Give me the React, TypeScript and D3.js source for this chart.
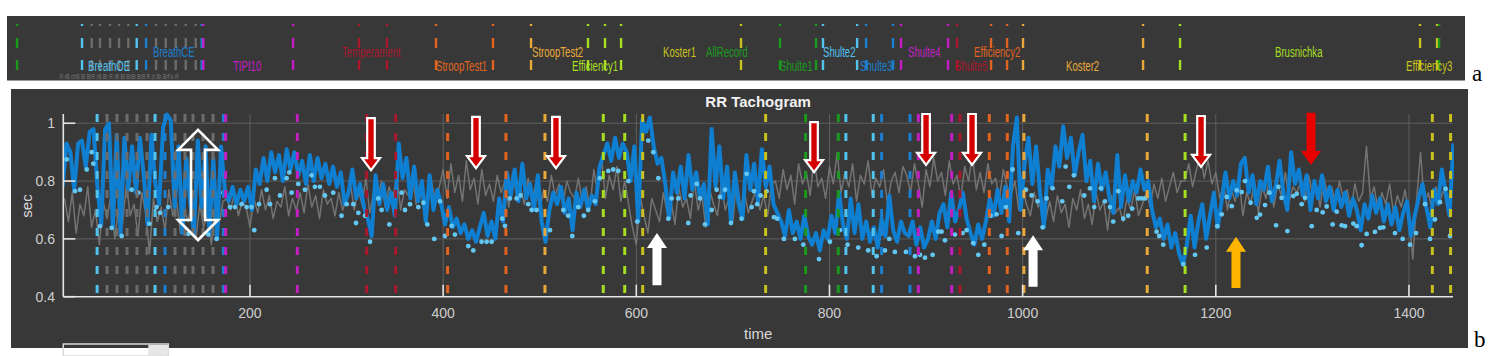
import React from 'react';
import * as d3 from 'd3';

// ---------- axes ----------
const X_DOMAIN: [number, number] = [6.7, 1445.6];
const Y_DOMAIN: [number, number] = [0.4, 1.032];
const X_TICKS = [200, 400, 600, 800, 1000, 1200, 1400];
const Y_TICKS = [0.4, 0.6, 0.8, 1];
const Y_TICK_LABELS = ['0.4', '0.6', '0.8', '1'];
const Y_GRID = [0.6, 0.8, 1];

// ---------- series ----------
const BLUE_T0 = 6;
const BLUE_DT = 4;
const BLUE = [
  0.78, 0.93, 0.90, 0.77, 0.93, 0.94, 0.85, 0.97, 0.98, 0.78,
  0.65, 0.98, 1.00, 0.64, 0.96, 0.62, 0.95, 0.77, 0.92, 0.76,
  0.95, 0.82, 0.65, 0.96, 0.79, 0.72, 0.985, 1.03, 1.01, 0.71,
  0.92, 0.62, 0.88, 0.73, 0.62, 0.94, 0.71, 0.92, 0.62, 0.88,
  0.60, 0.92, 0.77,
  0.73, 0.78, 0.72, 0.77, 0.73, 0.78, 0.70, 0.84, 0.79, 0.88,
  0.80, 0.90, 0.83, 0.89, 0.80, 0.91, 0.84, 0.90, 0.82, 0.87,
  0.79, 0.89, 0.80, 0.88, 0.81, 0.86, 0.79, 0.85, 0.78, 0.83,
  0.72,
  0.76, 0.84, 0.74, 0.79, 0.71, 0.67, 0.61, 0.82, 0.72, 0.79,
  0.70, 0.76, 0.68, 0.93, 0.81, 0.88, 0.74, 0.85, 0.73, 0.80,
  0.66, 0.82, 0.70, 0.77, 0.72, 0.65, 0.71, 0.64, 0.67, 0.62,
  0.65, 0.60, 0.63, 0.59, 0.64, 0.69, 0.61, 0.66, 0.60, 0.74,
  0.66, 0.83, 0.75, 0.84, 0.73, 0.86, 0.74, 0.79, 0.70, 0.82,
  0.66, 0.59, 0.70, 0.76, 0.72, 0.78, 0.69, 0.74, 0.63, 0.76,
  0.71, 0.77, 0.70, 0.75, 0.72, 0.85, 0.89, 0.93, 0.87, 0.95,
  0.88, 0.93,
  0.90, 0.80, 0.92, 0.66, 1.01, 0.97, 1.02, 0.92, 0.86, 0.88,
  0.79, 0.67, 0.83, 0.76, 0.85, 0.74, 0.89, 0.77, 0.83, 0.74,
  0.79, 0.65, 0.98, 0.78, 0.92, 0.74, 0.85, 0.66, 0.83, 0.72,
  0.67, 0.89, 0.77, 0.86, 0.73, 0.91, 0.78, 0.85, 0.72, 0.69,
  0.66, 0.61, 0.70, 0.62, 0.66, 0.60, 0.68, 0.61, 0.58, 0.62,
  0.56, 0.63, 0.60, 0.68, 0.62, 0.76, 0.65, 0.60, 0.74, 0.62,
  0.72, 0.60, 0.66, 0.59, 0.64, 0.57, 0.67, 0.61, 0.75, 0.63,
  0.59, 0.66, 0.62,
  0.61, 0.66, 0.58, 0.64, 0.57, 0.60, 0.66, 0.60, 0.69, 0.72,
  0.64, 0.76, 0.66, 0.70, 0.76, 0.67, 0.62, 0.58, 0.65, 0.60,
  0.66, 0.74, 0.68, 0.77, 0.69, 0.78, 0.66, 0.92, 1.02, 0.70,
  0.86, 0.95, 0.79, 0.92, 0.76, 0.64, 0.84, 0.78, 0.92, 0.85,
  0.99, 0.88, 0.95, 0.82, 0.90, 0.96, 0.80, 0.87, 0.73, 0.86,
  0.77, 0.83, 0.74, 0.69, 0.89, 0.71, 0.82, 0.73, 0.80, 0.76,
  0.84, 0.77, 0.80, 0.70, 0.64, 0.67, 0.60, 0.65, 0.57, 0.62,
  0.55, 0.51,
  0.58, 0.68, 0.57, 0.66, 0.72, 0.60, 0.68, 0.76, 0.64, 0.73,
  0.83, 0.74, 0.80, 0.75, 0.86, 0.88, 0.76, 0.82, 0.72, 0.80,
  0.77, 0.85, 0.73, 0.78, 0.87, 0.76, 0.70, 0.90, 0.79, 0.84,
  0.75, 0.82, 0.70, 0.80, 0.74, 0.82, 0.73, 0.78, 0.70, 0.77,
  0.71, 0.76, 0.68, 0.74, 0.70, 0.63, 0.72, 0.67, 0.75, 0.69,
  0.74, 0.66, 0.72, 0.65, 0.71, 0.63, 0.69, 0.73, 0.61, 0.68,
  0.74, 0.79, 0.71, 0.64, 0.77, 0.72, 0.84, 0.76, 0.68, 0.93,
];

const GREY_T0 = 8;
const GREY_DT = 4;
const GREY = [
  0.74, 0.66, 0.76, 0.62, 0.72, 0.68, 0.78, 0.64, 0.70, 0.58,
  0.73, 0.67, 0.75, 0.60, 0.71, 0.65, 0.79, 0.68, 0.72, 0.61,
  0.76, 0.69, 0.55, 0.74, 0.66, 0.71, 0.63, 0.77, 0.68, 0.73,
  0.62, 0.70, 0.66, 0.75, 0.60, 0.72, 0.64, 0.69, 0.58, 0.71,
  0.65, 0.73,
  0.74, 0.70, 0.76, 0.68, 0.73, 0.71, 0.64, 0.74, 0.69, 0.77,
  0.70, 0.75, 0.67, 0.73, 0.71, 0.78, 0.68, 0.74, 0.70, 0.76,
  0.69, 0.79, 0.71, 0.75, 0.67, 0.77, 0.72, 0.74, 0.68, 0.76,
  0.70,
  0.74, 0.79, 0.70, 0.77, 0.72, 0.81, 0.69, 0.76, 0.73, 0.80,
  0.71, 0.78, 0.74, 0.82, 0.70, 0.77, 0.75, 0.83, 0.72, 0.79,
  0.71, 0.76, 0.80, 0.73, 0.78, 0.84, 0.74, 0.86, 0.76, 0.82,
  0.73, 0.87, 0.77, 0.81, 0.72, 0.84, 0.75, 0.79, 0.73, 0.82,
  0.76, 0.80, 0.71, 0.83, 0.75, 0.78, 0.72, 0.81, 0.74, 0.79,
  0.70, 0.77, 0.73, 0.82, 0.75, 0.79, 0.72, 0.80, 0.76, 0.74,
  0.81, 0.73, 0.78, 0.71, 0.84, 0.76, 0.88, 0.74, 0.82, 0.77,
  0.85, 0.73, 0.80,
  0.72, 0.64, 0.58, 0.75, 0.68, 0.62, 0.74, 0.70, 0.66, 0.76,
  0.69, 0.73, 0.65, 0.78, 0.71, 0.74, 0.67, 0.80, 0.70, 0.75,
  0.64, 0.77, 0.72, 0.68, 0.79, 0.70, 0.74, 0.66, 0.81, 0.71,
  0.76, 0.69, 0.73, 0.77, 0.70, 0.75, 0.68, 0.79,
  0.80, 0.74, 0.84, 0.77, 0.82, 0.72, 0.86, 0.79, 0.83, 0.75,
  0.88, 0.78, 0.81, 0.74, 0.85, 0.79, 0.90, 0.76, 0.83, 0.78,
  0.86, 0.73, 0.82, 0.79, 0.87, 0.75, 0.81, 0.78, 0.84, 0.72,
  0.80, 0.83, 0.76, 0.85,
  0.82, 0.76, 0.86, 0.79, 0.71, 0.84, 0.78, 0.88, 0.80, 0.83,
  0.75, 0.87, 0.79, 0.82, 0.74, 0.85, 0.80, 0.89, 0.77, 0.83,
  0.76, 0.86, 0.79, 0.81, 0.74, 0.84, 0.78,
  0.75, 0.80, 0.70, 0.77, 0.72, 0.68, 0.76, 0.71, 0.74, 0.67,
  0.73, 0.66, 0.75, 0.69, 0.72, 0.64, 0.74, 0.70, 0.77, 0.67,
  0.72, 0.65, 0.76, 0.70, 0.73, 0.63, 0.75, 0.69, 0.71, 0.66,
  0.74, 0.70, 0.77, 0.68, 0.72,
  0.76, 0.71, 0.79, 0.74, 0.81, 0.73, 0.78, 0.83, 0.76, 0.80,
  0.80, 0.86, 0.78, 0.84, 0.89, 0.81, 0.87, 0.79, 0.83,
  0.74, 0.79, 0.70, 0.77, 0.73, 0.81, 0.68, 0.76, 0.72, 0.80,
  0.69, 0.78, 0.74, 0.82, 0.71, 0.79, 0.75, 0.83, 0.73, 0.78,
  0.76,
  0.80, 0.73, 0.82, 0.76, 0.79, 0.71, 0.81, 0.75, 0.78, 0.72,
  0.80, 0.74, 0.77, 0.70, 0.79, 0.73, 0.76,
  0.92, 0.74, 0.78, 0.70, 0.76, 0.72, 0.79, 0.69, 0.75, 0.71,
  0.77, 0.68, 0.53, 0.74, 0.90, 0.72, 0.76, 0.70, 0.78, 0.73,
  0.77, 0.70, 0.76,
];

// light-blue markers: [time, sec]
const DOTS: [number, number][] = [
  [10.2, 0.875], [18.8, 0.765], [24, 0.77], [30.9, 0.84], [36.1, 0.9], [37.8, 0.86],
  [44.7, 0.644], [56.8, 0.638], [67.1, 0.61], [77.5, 0.77], [84.4, 0.76], [95.8, 0.652],
  [103.3, 0.71], [106.8, 0.69], [115.4, 0.71], [136.1, 0.617], [156.8, 0.615], [165.4, 0.6],
  [172.4, 0.76], [179.3, 0.71], [184.4, 0.71], [191.3, 0.72], [196.5, 0.71], [201.7, 0.71],
  [204.4, 0.63], [209.3, 0.72], [217.2, 0.77], [220.7, 0.72], [225.8, 0.81], [231, 0.75],
  [237.9, 0.81], [240.7, 0.83], [243.1, 0.76], [250, 0.79], [256.9, 0.77], [263.8, 0.82],
  [267.2, 0.78], [272.4, 0.78], [277.6, 0.75], [286.2, 0.76], [294.8, 0.68],
  [300.1, 0.72], [307, 0.72], [309.8, 0.655], [312.2, 0.69], [319.1, 0.68], [324.3, 0.59],
  [332.9, 0.74], [336.3, 0.7], [344.3, 0.65], [357, 0.76], [360.5, 0.7], [365.7, 0.72],
  [374.3, 0.71], [379.5, 0.725], [383.6, 0.65], [390.8, 0.6], [396.7, 0.73], [401.9, 0.61],
  [408.8, 0.645], [412.2, 0.615], [426, 0.575], [431.2, 0.56], [439.8, 0.59], [445, 0.59],
  [450.2, 0.59], [461.2, 0.67], [464, 0.645], [469.1, 0.74], [476, 0.74], [480.2, 0.75],
  [488.1, 0.72], [491.6, 0.7], [496.7, 0.7], [510.6, 0.63], [524.4, 0.7], [529.5, 0.68],
  [533.7, 0.61], [539.9, 0.71], [545.7, 0.68], [550.2, 0.7], [557.1, 0.73], [562.3, 0.81],
  [571, 0.835], [576.1, 0.84], [581.3, 0.835],
  [591.7, 0.8], [601, 0.66], [612.4, 0.94], [617.6, 0.9], [622.8, 0.81], [633.1, 0.67],
  [636.6, 0.74], [643.5, 0.74], [653.8, 0.655], [656.2, 0.75], [662.5, 0.79], [665.9, 0.74],
  [671.1, 0.65], [678, 0.7], [683.2, 0.77], [686.6, 0.745], [691.8, 0.77], [698, 0.655],
  [709, 0.67], [714.2, 0.825], [719.4, 0.71], [721.8, 0.765], [725.2, 0.72], [728.7, 0.75],
  [734.9, 0.765], [742.5, 0.675], [745.9, 0.67], [752.8, 0.6], [764.2, 0.6], [772.9, 0.58],
  [789.1, 0.53], [800.5, 0.59], [810.8, 0.63], [818.7, 0.58], [829.8, 0.57], [840.1, 0.56],
  [848.8, 0.54], [857.4, 0.56], [861.9, 0.6], [867.7, 0.555],
  [879.2, 0.555], [888.5, 0.54], [893.7, 0.545], [898.9, 0.535], [906.8, 0.545], [912.7, 0.625],
  [916.1, 0.625], [919.6, 0.595], [929.9, 0.615], [937.9, 0.62], [942, 0.63], [948.9, 0.585],
  [954.1, 0.545], [960.3, 0.58], [966.8, 0.68], [973, 0.685], [978.2, 0.61], [982.7, 0.71],
  [989.6, 0.84], [995.5, 0.62], [1003.4, 0.77], [1009.3, 0.75], [1015.5, 0.73], [1020.7, 0.64],
  [1024.8, 0.74], [1031, 0.775], [1041, 0.73], [1044.5, 0.85], [1048.3, 0.78], [1053.1, 0.82],
  [1063.8, 0.75], [1069.7, 0.775], [1074.1, 0.71], [1081, 0.775], [1085.2, 0.73], [1090.4, 0.71],
  [1093.8, 0.66], [1099, 0.765], [1104.2, 0.67], [1109.3, 0.68], [1113.5, 0.705], [1119.7, 0.74],
  [1123.1, 0.74], [1126.6, 0.74], [1138.7, 0.625], [1141.4, 0.61], [1145.6, 0.58],
  [1166.5, 0.513], [1178.5, 0.545], [1190.6, 0.57], [1201.6, 0.644], [1206.1, 0.685], [1211.3, 0.745],
  [1216.5, 0.713], [1221.7, 0.768], [1226.8, 0.762], [1230.3, 0.8], [1236.1, 0.725], [1242.4, 0.673],
  [1245.8, 0.684], [1251, 0.717], [1255.5, 0.76], [1262.4, 0.647], [1264.8, 0.78], [1268.2, 0.742],
  [1274.1, 0.627], [1280.3, 0.748], [1283.8, 0.756], [1288.9, 0.72], [1292.4, 0.742], [1299.3, 0.644],
  [1304.5, 0.7], [1310.7, 0.692], [1314.8, 0.712], [1321, 0.65], [1325.2, 0.694], [1330.3, 0.647],
  [1333.8, 0.644], [1342.4, 0.653], [1345.9, 0.644], [1351, 0.578], [1356.2, 0.617], [1364.8, 0.624],
  [1370, 0.638], [1373.5, 0.64], [1385.5, 0.62], [1393.5, 0.6], [1401.1, 0.58], [1407.3, 0.62],
  [1416.6, 0.72], [1421.8, 0.6], [1426.9, 0.667], [1432.1, 0.727], [1438, 0.773], [1442.5, 0.61],
];

// ---------- event markers (time, category) ----------
const EVENTS_B: [number, string][] = [
  [41.7, 'cyan'], [52, 'grey'], [62.3, 'grey'], [72.7, 'grey'], [83, 'grey'], [93.4, 'grey'],
  [101.7, 'cyan'], [112, 'blue'], [122.4, 'grey'], [132.7, 'grey'], [141, 'grey'], [151.4, 'grey'],
  [161.7, 'grey'], [172.4, 'blue'], [174.8, 'magenta'], [249, 'magenta'], [320.8, 'crimson'],
  [350.8, 'crimson'], [404.6, 'orange'], [465, 'orange'], [505.4, 'amber'], [565.8, 'lime'],
  [588, 'lime'], [606.6, 'olive'], [733.9, 'olive'], [775.3, 'green'], [809.1, 'green'],
  [817, 'cyan'], [845.3, 'cyan'], [854, 'blue'], [883.4, 'blue'], [892, 'magenta'],
  [926.5, 'magenta'], [935.1, 'crimson'], [965.5, 'orange'], [984.1, 'orange'], [1001.3, 'amber'],
  [1129, 'amber'], [1168.2, 'lime'], [1424.2, 'olive'], [1443.1, 'olive'],
];

const EVENTS_A: [number, string][] = [
  [-41.2, 'green'], [26.1, 'cyan'], [36.1, 'grey'], [44.7, 'grey'], [55.1, 'grey'], [64.4, 'grey'],
  [74, 'grey'], [82.7, 'cyan'], [92.4, 'blue'], [102.7, 'grey'], [112.8, 'grey'], [123.1, 'grey'],
  [133.5, 'grey'], [143.8, 'grey'], [150, 'blue'], [151.7, 'magenta'], [244.6, 'magenta'],
  [312.9, 'crimson'], [341.9, 'crimson'], [392.6, 'orange'], [451.6, 'orange'], [491, 'amber'],
  [550, 'lime'], [567.6, 'lime'], [584.2, 'lime'], [708.4, 'olive'], [748.8, 'green'],
  [786.1, 'green'], [793.3, 'cyan'], [828.6, 'cyan'], [837.9, 'blue'], [865.8, 'blue'],
  [874.1, 'magenta'], [922.8, 'magenta'], [932.1, 'crimson'], [967.3, 'orange'], [983.9, 'orange'],
  [1000.4, 'amber'], [1124.7, 'amber'], [1163, 'lime'], [1411.5, 'olive'], [1429.1, 'olive'],
  [1431.2, 'green'],
];

// [label, start time, category, row]
const LABELS_A: [string, number, string, string][] = [
  ['BreathOE', 32.3, 'cyan', 'lower'],
  ['BreathCE', 99.6, 'blue', 'upper'],
  ['TIPI10', 182.4, 'magenta', 'lower'],
  ['Temperament', 295.3, 'crimson', 'upper'],
  ['StroopTest1', 392.6, 'orange', 'lower'],
  ['StroopTest2', 492, 'amber', 'upper'],
  ['Efficiency1', 533.4, 'lime', 'lower'],
  ['Koster1', 627.7, 'olive', 'upper'],
  ['AllRecord', 672.2, 'green', 'upper'],
  ['Shulte1', 748.8, 'green', 'lower'],
  ['Shulte2', 793.3, 'cyan', 'upper'],
  ['Shulte3', 831.7, 'blue', 'lower'],
  ['Shulte4', 881.4, 'magenta', 'upper'],
  ['Shulte5', 930, 'crimson', 'lower'],
  ['Efficiency2', 949.7, 'orange', 'upper'],
  ['Koster2', 1045, 'amber', 'lower'],
  ['Brusnichka', 1261.3, 'lime', 'upper'],
  ['Efficiency3', 1397, 'olive', 'lower'],
];
const GREY_NOTE = 'R rB clrB Bl BrR rB Br R rB Bl BrBl BrB R cl Br BrFo R';
const GREY_NOTE_T = 3;

// annotations: [kind, time, sec from, sec to]
const ARROWS: [string, number, number, number][] = [
  ['hollowDown', 325.3, 1.018, 0.838],
  ['hollowDown', 434, 1.022, 0.845],
  ['hollowDown', 516.8, 1.022, 0.845],
  ['hollowDown', 784, 1.004, 0.831],
  ['hollowDown', 900, 1.032, 0.856],
  ['hollowDown', 947.6, 1.032, 0.856],
  ['hollowDown', 1184.7, 1.025, 0.849],
  ['redDown', 1298.6, 1.036, 0.856],
  ['whiteUp', 621.4, 0.44, 0.62],
  ['whiteUp', 1010.8, 0.434, 0.613],
  ['orangeUp', 1220.9, 0.43, 0.607],
  ['double', 146.2, 0.977, 0.596],
];

const COLORS: Record<string, string> = {
  cyan: '#52c3ee',
  blue: '#1c7fcf',
  grey: '#6c6c6c',
  magenta: '#c21ec4',
  crimson: '#a8172c',
  orange: '#e0641f',
  amber: '#e9a93a',
  lime: '#a6df22',
  olive: '#c9c21e',
  green: '#1a9a1d',
};

const SANS = '"Liberation Sans", Arial, Helvetica, sans-serif';
const SERIF = '"Liberation Serif", "Times New Roman", serif';

function arrowPath(cx: number, y0: number, y1: number, s: number, h: number, L: number) {
  const d = y1 > y0 ? 1 : -1;
  const yb = y1 - d * L;
  return `M${cx - s},${y0}L${cx + s},${y0}L${cx + s},${yb}L${cx + h},${yb}L${cx},${y1}L${cx - h},${yb}L${cx - s},${yb}Z`;
}
function doubleArrowPath(cx: number, yt: number, yb: number, s: number, h: number, L: number) {
  return `M${cx},${yt}L${cx + h},${yt + L}L${cx + s},${yt + L}L${cx + s},${yb - L}L${cx + h},${yb - L}L${cx},${yb}L${cx - h},${yb - L}L${cx - s},${yb - L}L${cx - s},${yt + L}L${cx - h},${yt + L}Z`;
}

export default function App() {
  const W = 1507;
  const H = 356;
  const BG = '#383838';
  const plot = { left: 63.3, right: 1453, top: 114, bottom: 296.7 };
  const strip = { x0: 7, x1: 1465, y0: 16, y1: 80.5 };
  const panel = { x0: 11, x1: 1468, y0: 89, y1: 348 };

  const x = d3.scaleLinear().domain(X_DOMAIN).range([plot.left, plot.right]);
  const y = d3.scaleLinear().domain(Y_DOMAIN).range([plot.bottom, plot.top]);

  const blueData: [number, number][] = BLUE.map((v, i) => [BLUE_T0 + i * BLUE_DT, v]);
  const greyData: [number, number][] = GREY.map((v, i) => [GREY_T0 + i * GREY_DT, v]);
  const line = d3
    .line<[number, number]>()
    .x((d) => x(d[0]))
    .y((d) => y(d[1]));

  const rowBaseline: Record<string, number> = { upper: 57, lower: 71 };

  return (
    <svg
      width={W}
      height={H}
      viewBox={`0 0 ${W} ${H}`}
      style={{ position: 'absolute', left: 0, top: 0, background: '#ffffff' }}
    >
      <defs>
        <clipPath id="plotClip">
          <rect x={plot.left} y={plot.top - 8} width={plot.right - plot.left + 1} height={plot.bottom - plot.top + 8} />
        </clipPath>
        <clipPath id="stripClip">
          <rect x={strip.x0} y={strip.y0} width={strip.x1 - strip.x0} height={strip.y1 - strip.y0} />
        </clipPath>
      </defs>

      {/* ---------- strip a ---------- */}
      <rect x={strip.x0} y={strip.y0} width={strip.x1 - strip.x0} height={strip.y1 - strip.y0} fill={BG} />
      <g clipPath="url(#stripClip)">
        {EVENTS_A.map(([t, c], i) => (
          <line
            key={'ea' + i}
            x1={x(t)}
            x2={x(t)}
            y1={24}
            y2={70}
            stroke={COLORS[c]}
            strokeWidth={2.4}
            strokeDasharray="2 12 10 12 10"
          />
        ))}
        <text
          transform={`translate(${x(GREY_NOTE_T)},79) scale(0.62,1)`}
          fontFamily={SANS}
          fontSize={8}
          fill="#7a7a7a"
        >
          {GREY_NOTE}
        </text>
        {LABELS_A.map(([txt, t, c, row], i) => (
          <text
            key={'la' + i}
            transform={`translate(${x(t)},${rowBaseline[row]}) scale(0.62,1)`}
            fontFamily={SANS}
            fontSize={15.5}
            fill={COLORS[c]}
          >
            {txt}
          </text>
        ))}
      </g>
      <text x={1472} y={81} fontFamily={SERIF} fontSize={23} fill="#000">
        a
      </text>

      {/* ---------- panel b ---------- */}
      <rect x={panel.x0} y={panel.y0} width={panel.x1 - panel.x0} height={panel.y1 - panel.y0} fill={BG} />
      <text x={(plot.left + plot.right) / 2} y={107} textAnchor="middle" fontFamily={SANS} fontSize={15} fontWeight="bold" fill="#f2f2f2">
        RR Tachogram
      </text>

      {/* grid */}
      {X_TICKS.map((t) => (
        <line key={'gx' + t} x1={x(t)} x2={x(t)} y1={plot.top} y2={plot.bottom} stroke="#5f5f5f" strokeWidth={1} />
      ))}
      {Y_GRID.map((v) => (
        <line key={'gy' + v} x1={plot.left} x2={plot.right} y1={y(v)} y2={y(v)} stroke="#5f5f5f" strokeWidth={1} />
      ))}

      <g clipPath="url(#plotClip)">
        <path d={line(greyData) || ''} fill="none" stroke="#737373" strokeWidth={1.5} strokeLinejoin="round" />
        <path d={line(blueData) || ''} fill="none" stroke="#0f7fd2" strokeWidth={4} strokeLinejoin="round" />
        {DOTS.map(([t, v], i) => (
          <circle key={'d' + i} cx={x(t)} cy={y(v)} r={2.4} fill="#62c8f3" />
        ))}
        {EVENTS_B.map(([t, c], i) => (
          <line
            key={'eb' + i}
            x1={x(t)}
            x2={x(t)}
            y1={plot.top}
            y2={plot.bottom}
            stroke={COLORS[c]}
            strokeWidth={3}
            strokeDasharray="8 11"
          />
        ))}
      </g>

      {/* axes */}
      <line x1={plot.left} x2={plot.right} y1={plot.bottom} y2={plot.bottom} stroke="#e4e4e4" strokeWidth={1.6} />
      <line x1={plot.left} x2={plot.left} y1={plot.top} y2={plot.bottom} stroke="#e4e4e4" strokeWidth={1.6} />
      {X_TICKS.map((t) => (
        <g key={'xt' + t}>
          <line x1={x(t)} x2={x(t)} y1={plot.bottom} y2={plot.bottom - 12} stroke="#e4e4e4" strokeWidth={1.6} />
          <text x={x(t)} y={318} textAnchor="middle" fontFamily={SANS} fontSize={14} fill="#cfcfcf">
            {t}
          </text>
        </g>
      ))}
      {Y_TICKS.map((v, i) => (
        <g key={'yt' + v}>
          <line x1={plot.left} x2={plot.left + 12} y1={y(v)} y2={y(v)} stroke="#e4e4e4" strokeWidth={1.6} />
          <text x={55} y={y(v) + 5} textAnchor="end" fontFamily={SANS} fontSize={14} fill="#cfcfcf">
            {Y_TICK_LABELS[i]}
          </text>
        </g>
      ))}
      <text x={(plot.left + plot.right) / 2} y={339} textAnchor="middle" fontFamily={SANS} fontSize={15} fill="#d8d8d8">
        time
      </text>
      <text transform={`translate(32,206) rotate(-90)`} textAnchor="middle" fontFamily={SANS} fontSize={15} fill="#d8d8d8">
        sec
      </text>

      {/* annotations */}
      {ARROWS.map(([kind, t, v0, v1], i) => {
        const cx = x(t);
        const y0 = y(v0);
        const y1 = y(v1);
        if (kind === 'hollowDown')
          return <path key={'a' + i} d={arrowPath(cx, y0, y1, 3.8, 9, 12)} fill="#d40000" stroke="#ffffff" strokeWidth={2.2} strokeLinejoin="miter" />;
        if (kind === 'redDown')
          return <path key={'a' + i} d={arrowPath(cx, y0, y1, 4.5, 10, 14)} fill="#e60000" />;
        if (kind === 'whiteUp')
          return <path key={'a' + i} d={arrowPath(cx, y0, y1, 4.5, 10, 15)} fill="#ffffff" />;
        if (kind === 'orangeUp')
          return <path key={'a' + i} d={arrowPath(cx, y0, y1, 4.5, 10, 15)} fill="#ffb400" />;
        return (
          <path key={'a' + i} d={doubleArrowPath(cx, Math.min(y0, y1), Math.max(y0, y1), 7, 20, 20)} fill="none" stroke="#ffffff" strokeWidth={2.6} />
        );
      })}

      {/* scrollbar stub */}
      <rect x={plot.left} y={344} width={105} height={12} fill="none" stroke="#d8d8d8" strokeWidth={1.5} />
      <rect x={plot.left + 85} y={345} width={20} height={10} fill="#e6e6e6" />

      <text x={1474} y={347} fontFamily={SERIF} fontSize={23} fill="#000">
        b
      </text>
    </svg>
  );
}
